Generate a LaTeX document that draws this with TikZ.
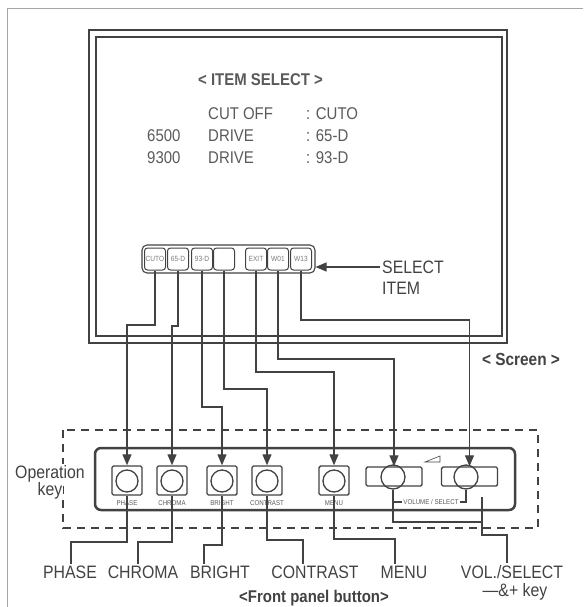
\documentclass[tikz,border=0pt]{standalone}
\usepackage{fontspec}
\setmainfont{Liberation Sans}[FakeStretch=0.88]
\usepackage{xcolor}
\usetikzlibrary{arrows.meta}
\definecolor{ink}{HTML}{424242}
\definecolor{txt}{HTML}{5A5A5A}

\begin{document}
\begin{tikzpicture}[x=1pt,y=-1pt,
    link/.style={draw=ink,line width=1.2pt},
    tip/.style={-{Triangle[length=11pt,width=9pt]}},
    key/.style={draw=ink,line width=1pt,rounded corners=3pt,minimum width=21pt,minimum height=22pt,inner sep=0,font=\fontsize{7.5}{8}\selectfont,text=txt!80},
    btn/.style={draw=ink,line width=1.4pt,rounded corners=1.5pt,minimum width=30pt,minimum height=29pt,inner sep=0},
    wide/.style={btn,minimum width=56pt,minimum height=19pt},
    knob/.style={draw=ink,line width=1.3pt,circle,minimum size=22pt,inner sep=0},
    tag/.style={font=\fontsize{7}{8}\selectfont,text=txt,inner sep=1.5pt},
    scr/.style={font=\fontsize{17}{20}\selectfont,text=txt,inner sep=0,anchor=base west},
    scrb/.style={scr,font=\bfseries\fontsize{17}{20}\selectfont},
    lbl/.style={font=\fontsize{18}{20}\selectfont,text=ink,inner sep=2pt,anchor=base}]
  \useasboundingbox (0,0) rectangle (583,607);
  \draw[gray!70,line width=0.8pt] (583,8) -- (7,8) -- (7,607);

  % screen
  \draw[ink,line width=2.2pt] (89,30) rectangle (507,343);
  \draw[ink,line width=1.1pt] (96,37) rectangle (502,336);
  \node[scrb] (title) at (198,86) {< ITEM SELECT >};
  \node[scr] (cutoff) at (208,119) {CUT OFF};
  \node[scr] (cutoval) at (306,119) {: CUTO};
  \node[scr] (t6500) at (147,141) {6500};
  \node[scr] (drive65) at (208,141) {DRIVE};
  \node[scr] (d65val) at (306,141) {: 65-D};
  \node[scr] (t9300) at (147,163) {9300};
  \node[scr] (drive93) at (208,163) {DRIVE};
  \node[scr] (d93val) at (306,163) {: 93-D};

  \node[draw=ink,line width=1.1pt,rounded corners=5pt,minimum width=173pt,minimum height=28pt,inner sep=0] (keyrow) at (228.5,259) {};
  \foreach \n/\x/\t in {cuto/155/CUTO,d65/178/65-D,d93/202/93-D,blank/224/,exit/256/EXIT,w01/278/W01,w13/301/W13}
    \node[key] (k\n) at (\x,259) {\t};

  \node[lbl,anchor=base west] (sel) at (380,273) {SELECT};
  \node[lbl,anchor=base west] (item) at (380,294) {ITEM};
  \draw[link,tip] (sel.west |- 0,267) -- (keyrow.east |- 0,267);
  \node[lbl,font=\bfseries\fontsize{17.5}{20}\selectfont] (screen) at (521,365) {< Screen >};

  % front panel
  \draw[ink,line width=1.3pt,dash pattern=on 8pt off 6pt] (63,430) rectangle (538,528);
  \draw[ink,line width=2.5pt,rounded corners=6pt] (95,448) rectangle (515,510);
  \node[lbl,fill=white,inner sep=1pt] (oper) at (50,478) {Operation};
  \node[lbl,fill=white,inner sep=1pt] (opkey) at (50,495) {key};

  \foreach \n/\x/\t in {phase/127/PHASE,chroma/172/CHROMA,bright/222/BRIGHT,contrast/267/CONTRAST,menu/334/MENU}{
    \node[btn] (b\n) at (\x,480.5) {};
    \node[knob] (c\n) at (\x,481) {};
    \node[tag] (t\n) at (\x,503) {\t};
  }
  \node[wide] (bvol) at (394,476.5) {};
  \node[knob,minimum size=24pt] (cvol) at (393,477) {};
  \node[wide] (bsel) at (469.5,476.5) {};
  \node[knob,minimum size=24pt] (csel) at (466,477) {};
  \node[tag] (tvolsel) at (431,502) {VOLUME / SELECT};
  \draw[ink,line width=0.6pt] (425,462) -- (440,456) -- (440,462) -- cycle;

  % screen keys to buttons
  \foreach \k/\b/\y in {kcuto/bphase/325,kd65/bchroma/326,kd93/bbright/407,kblank/bcontrast/389,kexit/bmenu/372,kw01/bvol/359,kw13/bsel/320}
    \draw[link,tip] (\k.south) -- (\k.south |- 0,\y) -| (\b.north);

  % labels
  \node[lbl] (lphase) at (70,578.5) {PHASE};
  \node[lbl] (lchroma) at (143,578.5) {CHROMA};
  \node[lbl] (lbright) at (220,578.5) {BRIGHT};
  \node[lbl] (lcontrast) at (315,578.5) {CONTRAST};
  \node[lbl] (lmenu) at (404,578.5) {MENU};
  \node[lbl] (lvol) at (512,578.5) {VOL./SELECT};
  \node[lbl] (lkey) at (515,596) {\textemdash\&+ key};
  \node[lbl,font=\bfseries\fontsize{17}{20}\selectfont] (front) at (314,602) {<Front panel button>};

  \foreach \b/\l/\y/\dx in {bphase/lphase/542/1,bchroma/lchroma/542/-5,bbright/lbright/545/-16,bcontrast/lcontrast/540/-12,bmenu/lmenu/539/-9}
    \draw[link] (\b.south) -- (\b.south |- 0,\y) -| ([xshift=\dx]\l.north);

  \coordinate (volsrc) at (482,497);
  \draw[link] (cvol.south) -- (cvol.south |- 0,522) -- (volsrc |- 0,522);
  \draw[link] (cvol.south |- 0,502) -- (tvolsel.west);
  \draw[link] (tvolsel.east) -| (csel.south);
  \draw[link] (volsrc) -- (volsrc |- 0,535) -| ([xshift=-5]lvol.north);
\end{tikzpicture}
\end{document}
